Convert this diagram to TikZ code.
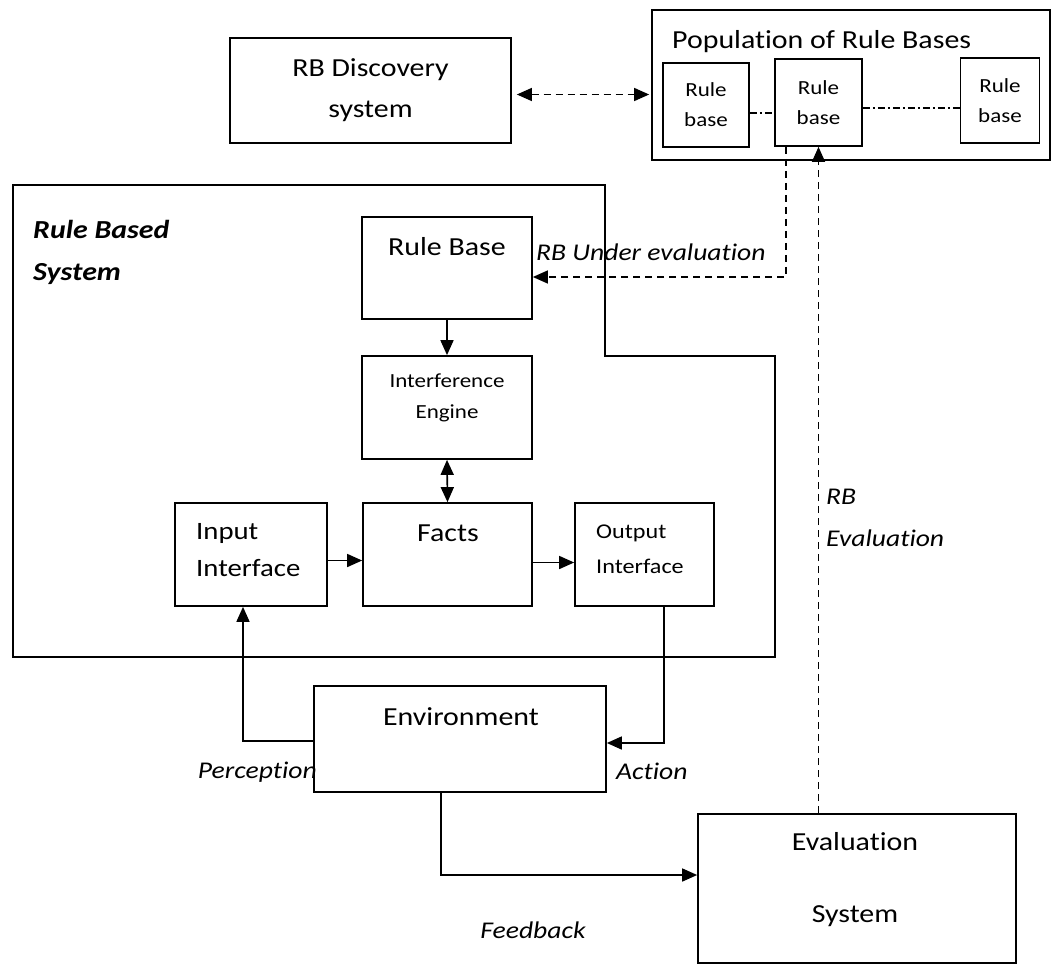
\documentclass[tikz,border=0pt]{standalone}
\usepackage{fontspec}
\setmainfont{Carlito}[FakeStretch=1.15, Ligatures=NoCommon]
\usetikzlibrary{arrows.meta}

\begin{document}
\begin{tikzpicture}[x=1pt,y=-1pt,
  box/.style={draw, line width=1.7pt, inner sep=0pt},
  txt/.style={inner sep=0pt, font=\fontsize{26}{31}\selectfont},
  ital/.style={inner sep=0pt, font=\fontsize{24}{42}\selectfont\itshape},
  link/.style={line width=1.6pt, -{Triangle[length=15pt,width=13pt]}},
  dlink/.style={line width=1.4pt, dash pattern=on 7pt off 5pt, -{Triangle[length=15pt,width=13pt]}},
  chain/.style={line width=1.2pt, dash pattern=on 7pt off 3pt on 2pt off 3pt}]
\useasboundingbox (0,0) rectangle (1052,966);

% Discovery and population
\node[box, txt, align=center, font=\fontsize{26}{41}\selectfont,
  minimum width=281pt, minimum height=105pt] (rbd) at (370.5,90.5) {RB Discovery\\system};
\node[box, minimum width=398pt, minimum height=150pt] (pop) at (851,85) {};
\node[txt, anchor=west] (popt) at (672,42) {Population of Rule Bases};
\node[box, txt, align=center, font=\fontsize{20}{30}\selectfont,
  minimum width=86pt, minimum height=84pt] (rb1) at (706,105) {Rule\\base};
\node[box, txt, align=center, font=\fontsize{20}{30}\selectfont,
  minimum width=87pt, minimum height=87pt] (rb2) at (818.5,102.5) {Rule\\base};
\node[box, txt, align=center, font=\fontsize{20}{30}\selectfont,
  minimum width=79pt, minimum height=85pt] (rb3) at (1000,100.5) {Rule\\base};

% Rule based system
\draw[line width=1.7pt] (13,185) -- (605,185) -- (605,356) -- (775,356) -- (775,657) -- (13,657) -- cycle;
\node[txt, anchor=west, align=left, font=\fontsize{26}{42}\selectfont\bfseries\itshape] (rbst) at (33,252) {Rule Based\\System};

\node[box, minimum width=170pt, minimum height=102pt] (rulebase) at (447,268) {};
\node[txt] (rulebaset) at (447,247) {Rule Base};
\node[box, minimum width=170pt, minimum height=103pt] (engine) at (447,407.5) {};
\node[txt, align=center, font=\fontsize{20}{31}\selectfont] (enginet) at (447,397.5) {Interference\\Engine};
\node[box, minimum width=169pt, minimum height=103pt] (facts) at (447.5,554.5) {};
\node[txt] (factst) at (448,533) {Facts};
\node[box, minimum width=152pt, minimum height=103pt] (input) at (251,554.5) {};
\node[txt, anchor=west, align=left, font=\fontsize{25}{37}\selectfont] (inputt) at (196,550.5) {Input\\Interface};
\node[box, minimum width=139pt, minimum height=103pt] (output) at (644.5,554.5) {};
\node[txt, anchor=west, align=left, font=\fontsize{21}{35}\selectfont] (outputt) at (596,549.5) {Output\\Interface};

% Environment and evaluation
\node[box, minimum width=292pt, minimum height=106pt] (env) at (460,739) {};
\node[txt] (envt) at (461,717) {Environment};
\node[box, minimum width=318pt, minimum height=149pt] (evalsys) at (857,888.5) {};
\node[txt, align=center, font=\fontsize{26}{72}\selectfont] (evalsyst) at (855,880) {Evaluation\\System};

% Labels
\node[ital, anchor=west] (uelbl) at (536,252) {RB Under evaluation};
\node[ital, anchor=west, align=left] (rbevlbl) at (826,518) {RB\\Evaluation};
\node[ital, anchor=east] (perclbl) at (317,772) {Perception};
\node[ital, anchor=west] (actlbl) at (616,771) {Action};
\node[ital] (fblbl) at (533,930) {Feedback};

% Solid links
\draw[link] (rulebase) -- (engine);
\draw[link, {Triangle[length=15pt,width=13pt]}-{Triangle[length=15pt,width=13pt]}] (engine.south) -- (facts.north);
\draw[link] ([yshift=-6pt]input.east) -- ([yshift=-6pt]facts.west);
\draw[link] ([yshift=-8pt]facts.east) -- ([yshift=-8pt]output.west);
\draw[link] ([yshift=-2pt]env.west) -| ([xshift=-8pt]input.south);
\draw[link] ([xshift=19.5pt]output.south) |- ([yshift=-4pt]env.east);
\draw[link] ([xshift=-19pt]env.south) |- ([yshift=13.5pt]evalsys.west);

% Dashed links
\draw[dlink, {Triangle[length=15pt,width=13pt]}-{Triangle[length=15pt,width=13pt]}, shorten <=5pt, shorten >=2pt]
  ([yshift=-4pt]rbd.east) -- ([yshift=-4pt]rbd.east -| pop.west);
\coordinate (ue) at (786,277);
\draw[dlink] (rb2.south -| ue) -- (ue) -- (ue -| rulebase.east);
\draw[dlink] (evalsys.north -| rb2.south) -- (rb2.south);
\draw[chain] ([yshift=-8pt]rb1.east) -- ([yshift=-8pt]rb1.east -| rb2.west);
\draw[chain] ([yshift=-5.5pt]rb2.east) -- ([yshift=-5.5pt]rb2.east -| rb3.west);
\end{tikzpicture}
\end{document}
